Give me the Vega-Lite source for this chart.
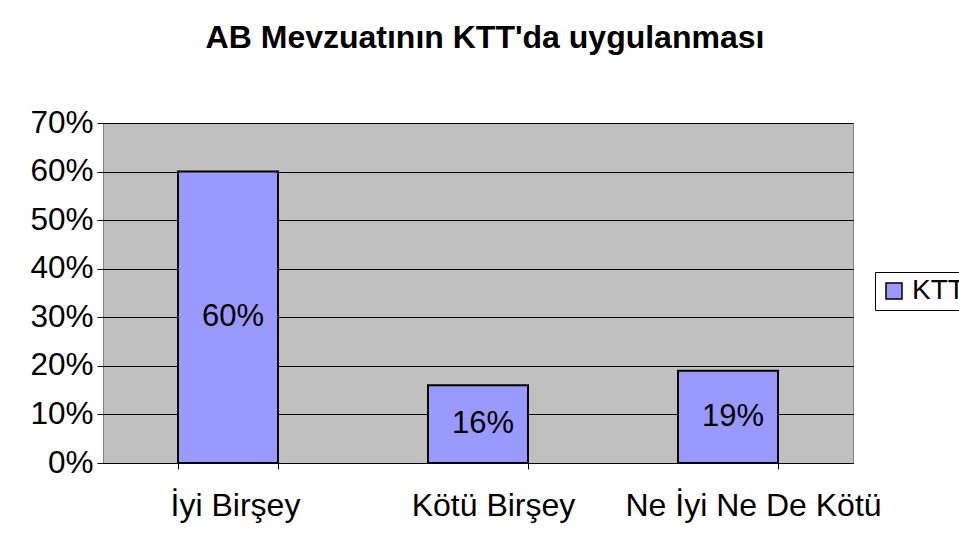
{
  "$schema": "https://vega.github.io/schema/vega-lite/v6.json",
  "autosize": {"type": "none"},
  "width": 750,
  "height": 340,
  "padding": {"left": 103, "top": 123, "right": 106, "bottom": 84},
  "background": "white",
  "title": {
    "text": "AB Mevzuatının KTT'da uygulanması",
    "font": "Liberation Sans",
    "fontSize": 32,
    "fontWeight": "bold",
    "color": "black",
    "anchor": "middle",
    "frame": "group",
    "baseline": "alphabetic",
    "offset": 27,
    "dx": 7
  },
  "data": {
    "values": [
      {"kategori": "İyi Birşey", "deger": 0.60, "seri": "KTT"},
      {"kategori": "Kötü Birşey", "deger": 0.16, "seri": "KTT"},
      {"kategori": "Ne İyi Ne De Kötü", "deger": 0.19, "seri": "KTT"}
    ]
  },
  "config": {
    "view": {"fill": "#C0C0C0", "stroke": "#808080", "strokeWidth": 1},
    "font": "Liberation Sans"
  },
  "encoding": {
    "x": {
      "field": "kategori",
      "type": "nominal",
      "sort": null,
      "scale": {"paddingInner": 0.6, "paddingOuter": 0.3},
      "axis": {
        "title": null,
        "labelAngle": 0,
        "labelFont": "Liberation Sans",
        "labelFontSize": 32,
        "labelColor": "black",
        "labelBaseline": "alphabetic",
        "labelPadding": 46,
        "labelLimit": 0,
        "labelOverlap": false,
        "labelOffset": {
          "condition": [
            {"test": "datum.value === 'İyi Birşey'", "value": 7},
            {"test": "datum.value === 'Kötü Birşey'", "value": 15}
          ],
          "value": 25
        },
        "tickBand": "extent",
        "tickSize": 6,
        "tickColor": "black",
        "domainColor": "black",
        "grid": false
      }
    }
  },
  "layer": [
    {
      "mark": {"type": "bar", "fill": "#9999FF", "stroke": "black", "strokeWidth": 2},
      "encoding": {
        "y": {
          "field": "deger",
          "type": "quantitative",
          "scale": {"domain": [0, 0.7]},
          "axis": {
            "title": null,
            "format": ".0%",
            "values": [0, 0.1, 0.2, 0.3, 0.4, 0.5, 0.6, 0.7],
            "labelOverlap": false,
            "labelFont": "Liberation Sans",
            "labelFontSize": 31.5,
            "labelColor": "black",
            "labelPadding": 4,
            "tickSize": 6,
            "tickColor": "black",
            "domain": false,
            "grid": true,
            "gridColor": "black",
            "gridWidth": 1
          }
        },
        "color": {
          "field": "seri",
          "type": "nominal",
          "scale": {"range": ["#9999FF"]},
          "legend": {
            "title": null,
            "orient": "none",
            "legendX": 772,
            "legendY": 149,
            "symbolType": "square",
            "symbolSize": 256,
            "symbolStrokeColor": "black",
            "symbolStrokeWidth": 1.5,
            "symbolFillColor": "#9999FF",
            "labelFont": "Liberation Sans",
            "labelFontSize": 28,
            "labelColor": "black",
            "labelOffset": 4,
            "strokeColor": "black",
            "fillColor": "white",
            "padding": 5
          }
        }
      }
    },
    {
      "transform": [{"calculate": "datum.deger / 2", "as": "orta"}],
      "mark": {"type": "text", "font": "Liberation Sans", "fontSize": 31, "color": "black", "dx": 5, "baseline": "middle"},
      "encoding": {
        "y": {"field": "orta", "type": "quantitative"},
        "text": {"field": "deger", "type": "quantitative", "format": ".0%"}
      }
    }
  ]
}
